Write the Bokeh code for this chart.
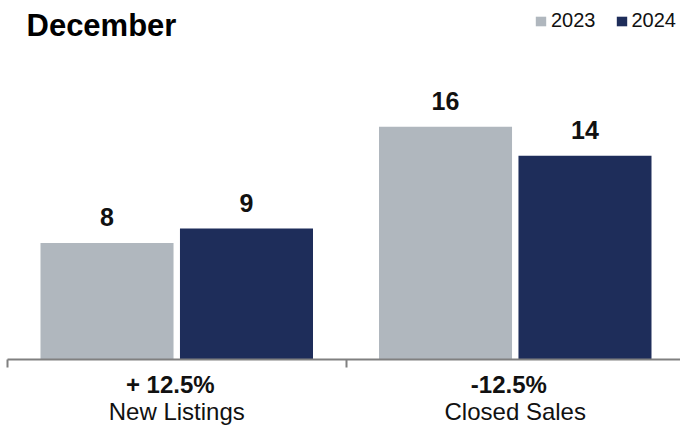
from bokeh.plotting import figure
from bokeh.models import (ColumnDataSource, Range1d, LinearAxis, FixedTicker,
                          LabelSet, Label)
from bokeh.core.properties import value
from bokeh.transform import dodge
from bokeh.embed import file_html
from bokeh.resources import INLINE

# ---- data ----
categories = ["New Listings", "Closed Sales"]
values_2023 = [8, 16]
values_2024 = [9, 14]
series_names = ["2023", "2024"]
title_text = "December"

# ---- derived ----
pct = [(b - a) / a * 100 for a, b in zip(values_2023, values_2024)]
pct_labels = [("+ %.1f%%" % v) if v > 0 else ("%.1f%%" % v) for v in pct]
centers = [i + 0.5 for i in range(len(categories))]
bounds = list(range(len(categories) + 1))
PCT_SHIFT = 0.019
pct_pos = [c - PCT_SHIFT for c in centers]

COL_23 = "#B0B7BE"
COL_24 = "#1E2D5A"
AXIS_COL = "#808080"
FONT = "Liberation Sans"
TXT = "#111111"

src = ColumnDataSource(dict(
    center=centers,
    v23=values_2023,
    v24=values_2024,
    t23=[str(v) for v in values_2023],
    t24=[str(v) for v in values_2024],
))

W, H = 680, 427
LEFT = 7
CAT_PX = 338.5
FRAME_H = 359
PX_PER_UNIT = 14.55

p = figure(width=W, height=H, output_backend="svg", toolbar_location=None,
           x_range=Range1d(0, (W - LEFT) / CAT_PX),
           y_range=Range1d(0, FRAME_H / PX_PER_UNIT),
           x_axis_location=None, y_axis_location=None,
           min_border_left=LEFT, min_border_right=0, min_border_top=0,
           min_border_bottom=H - FRAME_H)
p.outline_line_color = None
p.grid.visible = False
p.background_fill_color = "white"
p.border_fill_color = "white"

OFF = 0.206
BW = 0.393
p.vbar(x=dodge("center", -OFF, range=p.x_range), top="v23", width=BW, source=src,
       fill_color=COL_23, line_color=None, legend_label=series_names[0])
p.vbar(x=dodge("center", OFF, range=p.x_range), top="v24", width=BW, source=src,
       fill_color=COL_24, line_color=None, legend_label=series_names[1])

for col, off in (("23", -OFF), ("24", OFF)):
    p.add_layout(LabelSet(x=dodge("center", off, range=p.x_range), y="v" + col,
                          text="t" + col, source=src, y_offset=17,
                          text_align="center", text_baseline="alphabetic",
                          text_font=value(FONT), text_font_style="bold",
                          text_font_size="25px", text_color=TXT))

# axis with boundary ticks (minor) and % change labels (major)
axis_pct = LinearAxis(ticker=FixedTicker(ticks=pct_pos, minor_ticks=bounds),
                      major_label_overrides={c: t for c, t in zip(pct_pos, pct_labels)},
                      axis_line_color=AXIS_COL, axis_line_width=2,
                      major_tick_in=0, major_tick_out=0,
                      minor_tick_in=0, minor_tick_out=8,
                      minor_tick_line_color=AXIS_COL, minor_tick_line_width=2,
                      major_label_text_font=FONT, major_label_text_font_style="bold",
                      major_label_text_font_size="24px", major_label_text_color=TXT,
                      major_label_standoff=3)
p.add_layout(axis_pct, "below")

axis_cat = LinearAxis(ticker=FixedTicker(ticks=centers, minor_ticks=[]),
                      major_label_overrides={c: t for c, t in zip(centers, categories)},
                      axis_line_color=None, major_tick_line_color=None,
                      minor_tick_line_color=None,
                      major_tick_in=0, major_tick_out=0, minor_tick_in=0, minor_tick_out=0,
                      major_label_text_font=FONT, major_label_text_font_size="24px",
                      major_label_text_color=TXT, major_label_standoff=-3)
p.add_layout(axis_cat, "below")

p.add_layout(Label(x=26 - LEFT, y=334, x_units="screen", y_units="screen", text=title_text,
                   text_font=FONT, text_font_style="bold",
                   text_font_size="31px", text_color="#000000",
                   text_baseline="alphabetic"))

lg = p.legend[0]
lg.location = (534 - LEFT, 327)
lg.orientation = "horizontal"
lg.border_line_color = None
lg.background_fill_alpha = 0
lg.glyph_width = 13
lg.glyph_height = 12
lg.label_standoff = 4
lg.spacing = 19
lg.padding = 0
lg.margin = 0
lg.label_text_font = FONT
lg.label_text_font_size = "20px"
lg.label_text_color = TXT
lg.label_height = 12

open("out.html", "w").write(file_html(p, INLINE))
